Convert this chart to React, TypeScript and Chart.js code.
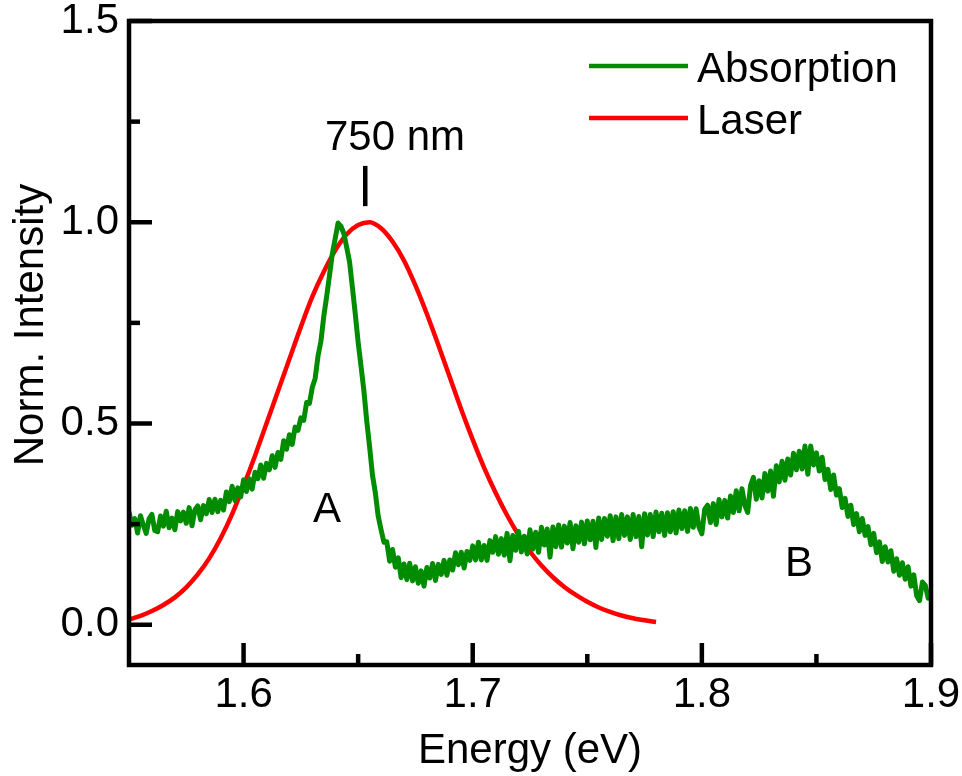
import React, { useEffect, useRef } from "react";
import { Chart, registerables } from "chart.js";

Chart.register(...registerables);

const FONT = "'Liberation Sans', Arial, Helvetica, sans-serif";

// Axis ranges and ticks
const X_MIN = 1.55;
const X_MAX = 1.9;
const Y_MIN = -0.1;
const Y_MAX = 1.5;
const xTicks = [1.6, 1.7, 1.8, 1.9];
const xMinorTicks = [1.65, 1.75, 1.85];
const yTicks = [0.0, 0.5, 1.0, 1.5];
const yMinorTicks = [0.25, 0.75, 1.25];

const xTitle = "Energy (eV)";
const yTitle = "Norm. Intensity";
const seriesLabels = ["Absorption", "Laser"];
const seriesColors = ["#008c00", "#ff0000"];

// Laser spectrum (eV, normalized)
const laserEnergy = [
  1.55, 1.555, 1.56, 1.565, 1.57, 1.575, 1.58, 1.585, 1.59, 1.595,
  1.6, 1.605, 1.61, 1.615, 1.62, 1.625, 1.63, 1.635, 1.64, 1.645,
  1.65, 1.655, 1.66, 1.665, 1.67, 1.675, 1.68, 1.685, 1.69, 1.695,
  1.7, 1.705, 1.71, 1.715, 1.72, 1.725, 1.73, 1.735, 1.74, 1.745,
  1.75, 1.755, 1.76, 1.765, 1.77, 1.775, 1.78,
];
const laserIntensity = [
  0.013, 0.022, 0.034, 0.049, 0.068, 0.093, 0.125, 0.165, 0.215, 0.275,
  0.345, 0.42, 0.5, 0.58, 0.66, 0.74, 0.815, 0.877, 0.93, 0.97,
  0.993, 1.0, 0.985, 0.952, 0.905, 0.843, 0.772, 0.695, 0.615, 0.535,
  0.46, 0.39, 0.328, 0.272, 0.223, 0.182, 0.147, 0.118, 0.094, 0.074,
  0.057, 0.043, 0.032, 0.023, 0.016, 0.011, 0.007,
];

// Absorption spectrum, sampled every 0.00125 eV from 1.55 eV to 1.90 eV
const absStart = 1.55;
const absStep = 0.00125;
const absIntensity = [
  0.281, 0.247, 0.264, 0.228, 0.271, 0.248, 0.227, 0.263, 0.274, 0.234,
  0.231, 0.27, 0.245, 0.282, 0.241, 0.265, 0.236, 0.281, 0.258, 0.28,
  0.252, 0.291, 0.246, 0.285, 0.295, 0.261, 0.296, 0.276, 0.311, 0.279,
  0.312, 0.281, 0.309, 0.285, 0.33, 0.306, 0.344, 0.309, 0.34, 0.318,
  0.36, 0.331, 0.362, 0.337, 0.379, 0.363, 0.397, 0.364, 0.401, 0.385,
  0.42, 0.391, 0.428, 0.411, 0.457, 0.436, 0.472, 0.448, 0.491, 0.483,
  0.514, 0.508, 0.552, 0.55, 0.59, 0.612, 0.668, 0.704, 0.766, 0.815,
  0.868, 0.922, 0.96, 0.998, 0.99, 0.972, 0.938, 0.902, 0.838, 0.772,
  0.702, 0.643, 0.582, 0.506, 0.442, 0.372, 0.328, 0.27, 0.236, 0.205,
  0.206, 0.158, 0.187, 0.143, 0.166, 0.117, 0.151, 0.112, 0.153, 0.109,
  0.144, 0.103, 0.134, 0.096, 0.142, 0.116, 0.152, 0.11, 0.15, 0.125,
  0.16, 0.123, 0.161, 0.136, 0.179, 0.149, 0.18, 0.141, 0.182, 0.16,
  0.196, 0.161, 0.205, 0.161, 0.197, 0.16, 0.209, 0.18, 0.219, 0.175,
  0.214, 0.173, 0.227, 0.159, 0.222, 0.185, 0.232, 0.181, 0.22, 0.176,
  0.236, 0.188, 0.23, 0.18, 0.242, 0.198, 0.238, 0.168, 0.243, 0.194,
  0.248, 0.193, 0.245, 0.203, 0.254, 0.189, 0.246, 0.205, 0.255, 0.201,
  0.258, 0.211, 0.257, 0.192, 0.265, 0.212, 0.264, 0.22, 0.271, 0.209,
  0.268, 0.214, 0.274, 0.222, 0.268, 0.212, 0.274, 0.219, 0.269, 0.194,
  0.276, 0.223, 0.274, 0.219, 0.28, 0.231, 0.277, 0.222, 0.278, 0.231,
  0.281, 0.228, 0.285, 0.239, 0.283, 0.232, 0.289, 0.242, 0.288, 0.242,
  0.226, 0.287, 0.297, 0.254, 0.301, 0.249, 0.311, 0.268, 0.309, 0.265,
  0.32, 0.279, 0.333, 0.283, 0.338, 0.297, 0.279, 0.346, 0.366, 0.312,
  0.358, 0.315, 0.376, 0.332, 0.382, 0.319, 0.395, 0.355, 0.406, 0.359,
  0.412, 0.372, 0.426, 0.385, 0.431, 0.387, 0.444, 0.374, 0.444, 0.397,
  0.427, 0.382, 0.416, 0.361, 0.386, 0.336, 0.372, 0.322, 0.338, 0.291,
  0.314, 0.269, 0.297, 0.249, 0.276, 0.231, 0.264, 0.222, 0.244, 0.199,
  0.227, 0.179, 0.206, 0.157, 0.194, 0.156, 0.184, 0.133, 0.164, 0.123,
  0.154, 0.113, 0.144, 0.096, 0.124, 0.072, 0.06, 0.106, 0.098, 0.066,
  0.08,
];

// Annotations (data coordinates)
const markerEnergy = 1.6531;
const markerBottom = 1.04;
const markerTop = 1.14;
const annotations = [
  { text: "750 nm", x: 1.6661, y: 1.179 },
  { text: "A", x: 1.6364, y: 0.256 },
  { text: "B", x: 1.8424, y: 0.12 },
];

const absData = absIntensity.map((v, i) => ({ x: absStart + i * absStep, y: v }));
const laserData = laserEnergy.map((e, i) => ({ x: e, y: laserIntensity[i] }));

const decorPlugin = {
  id: "decor",
  afterDatasetsDraw(chart: any) {
    const { ctx, chartArea, scales } = chart;
    const xs = scales.x;
    const ys = scales.y;
    const { left, right, top, bottom } = chartArea;
    ctx.save();
    ctx.strokeStyle = "#000";
    ctx.lineWidth = 4.5;
    ctx.lineCap = "butt";
    const drawY = (vals: number[], len: number) => {
      vals.forEach((v) => {
        const py = ys.getPixelForValue(v);
        ctx.beginPath();
        ctx.moveTo(left, py);
        ctx.lineTo(left + len, py);
        ctx.stroke();
      });
    };
    const drawX = (vals: number[], len: number) => {
      vals.forEach((v) => {
        const px = xs.getPixelForValue(v);
        ctx.beginPath();
        ctx.moveTo(px, bottom);
        ctx.lineTo(px, bottom - len);
        ctx.stroke();
      });
    };
    drawY(yTicks, 23);
    drawY(yMinorTicks, 11);
    drawX(xTicks, 22);
    drawX(xMinorTicks, 11);
    ctx.lineJoin = "miter";
    ctx.strokeRect(left, top, right - left, bottom - top);

    // annotations
    ctx.fillStyle = "#000";
    ctx.font = `42px ${FONT}`;
    ctx.textAlign = "center";
    ctx.textBaseline = "alphabetic";
    annotations.forEach((a) => {
      ctx.fillText(a.text, xs.getPixelForValue(a.x), ys.getPixelForValue(a.y));
    });

    // legend
    const items = [
      { label: seriesLabels[0], color: seriesColors[0], y: 66 },
      { label: seriesLabels[1], color: seriesColors[1], y: 118 },
    ];
    ctx.textAlign = "left";
    items.forEach((it) => {
      ctx.strokeStyle = it.color;
      ctx.lineWidth = 4.5;
      ctx.beginPath();
      ctx.moveTo(589, it.y);
      ctx.lineTo(688, it.y);
      ctx.stroke();
      ctx.fillStyle = "#000";
      ctx.fillText(it.label, 697, it.y + 16);
    });

    // axis titles
    ctx.textAlign = "center";
    ctx.fillText(xTitle, (left + right) / 2, 763);
    ctx.save();
    ctx.translate(43, 325);
    ctx.rotate(-Math.PI / 2);
    ctx.fillText(yTitle, 0, 0);
    ctx.restore();
    ctx.restore();
  },
};

export default function App() {
  const ref = useRef<HTMLCanvasElement | null>(null);
  useEffect(() => {
    if (!ref.current) return;
    const chart = new Chart(ref.current, {
      type: "line",
      data: {
        datasets: [
          {
            label: seriesLabels[0],
            data: absData,
            borderColor: seriesColors[0],
            backgroundColor: seriesColors[0],
            borderWidth: 5,
            pointRadius: 0,
            tension: 0,
            borderJoinStyle: "round",
          },
          {
            label: seriesLabels[1],
            data: laserData,
            borderColor: seriesColors[1],
            backgroundColor: seriesColors[1],
            borderWidth: 4.5,
            pointRadius: 0,
            cubicInterpolationMode: "monotone",
            borderJoinStyle: "round",
          },
          {
            label: "marker",
            data: [
              { x: markerEnergy, y: markerBottom },
              { x: markerEnergy, y: markerTop },
            ],
            borderColor: "#000",
            backgroundColor: "#000",
            borderWidth: 4.5,
            pointRadius: 0,
          },
        ],
      },
      options: {
        responsive: false,
        animation: false,
        events: [],
        layout: { padding: { top: 21, right: 31, left: 0, bottom: 0 } },
        plugins: {
          legend: { display: false },
          tooltip: { enabled: false },
        },
        scales: {
          x: {
            type: "linear",
            min: X_MIN,
            max: X_MAX,
            grid: { display: false, drawTicks: false },
            border: { display: false },
            afterBuildTicks: (s: any) => {
              s.ticks = xTicks.map((v) => ({ value: v }));
            },
            afterFit: (s: any) => {
              s.height = 111;
              s.paddingLeft = 0;
              s.paddingRight = 0;
            },
            ticks: {
              color: "#000",
              font: { family: FONT, size: 42 },
              padding: 5,
              maxRotation: 0,
              autoSkip: false,
              callback: (v: any) => Number(v).toFixed(1),
            },
          },
          y: {
            type: "linear",
            min: Y_MIN,
            max: Y_MAX,
            grid: { display: false, drawTicks: false },
            border: { display: false },
            afterBuildTicks: (s: any) => {
              s.ticks = yTicks.map((v) => ({ value: v }));
            },
            afterFit: (s: any) => {
              s.width = 129;
              s.paddingTop = 0;
              s.paddingBottom = 0;
            },
            ticks: {
              color: "#000",
              font: { family: FONT, size: 42 },
              padding: 10,
              autoSkip: false,
              callback: (v: any) => Number(v).toFixed(1),
            },
          },
        },
      },
      plugins: [decorPlugin],
    } as any);
    return () => chart.destroy();
  }, []);
  return (
    <div style={{ position: "absolute", left: 0, top: 0, width: 962, height: 776, background: "#fff" }}>
      <canvas ref={ref} width={962} height={776} style={{ display: "block" }} />
    </div>
  );
}
